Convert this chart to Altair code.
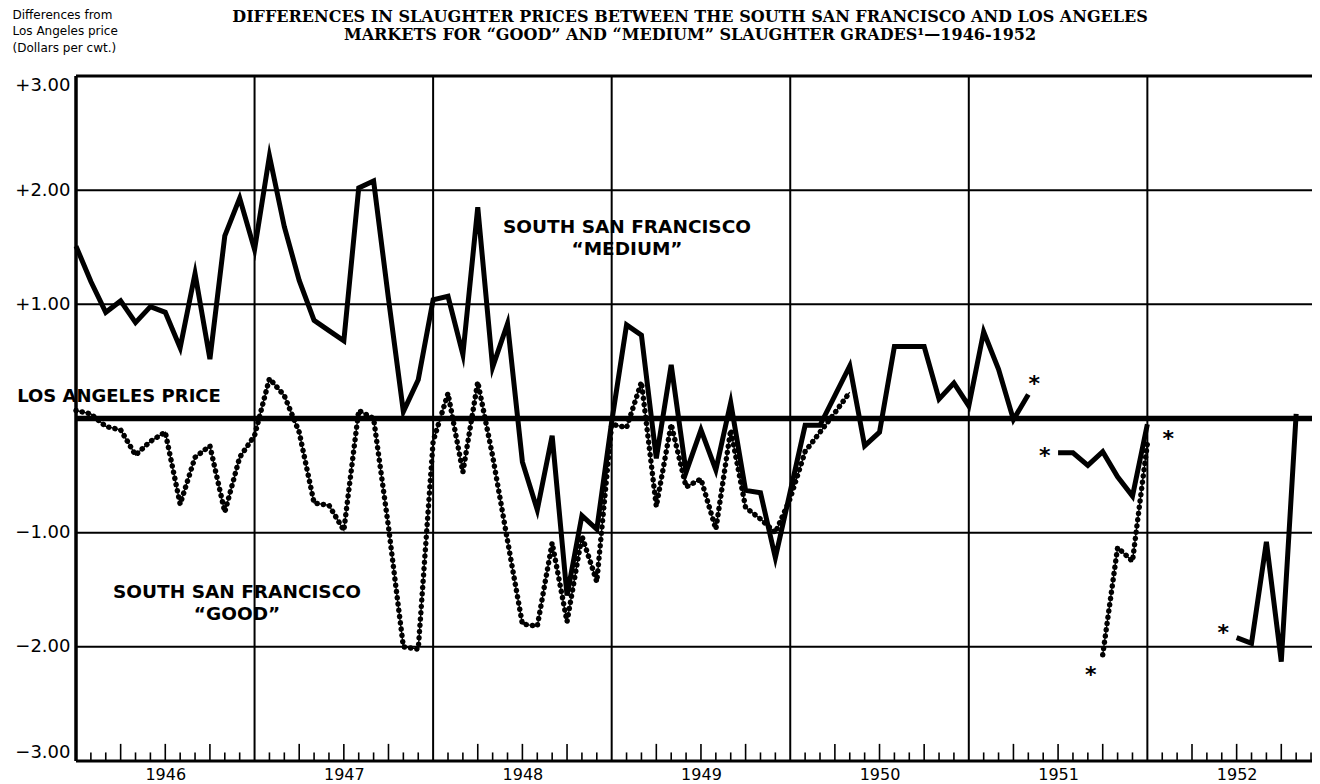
import json
import altair as alt
import numpy as np
import pandas as pd

# ---------------- data (month index 0 = January 1946) ----------------
year_labels = ["1946", "1947", "1948", "1949", "1950", "1951", "1952"]
y_tick_values = [3, 2, 1, -1, -2, -3]
hgrid_values = [2, 1, -1, -2]
vgrid_months = [12, 24, 36, 48, 60, 72]

medium = [
    1.51, 1.20, 0.93, 1.03, 0.84, 0.98, 0.93, 0.62, 1.27, 0.52, 1.60, 1.93,        # 1946
    1.48, 2.30, 1.68, 1.21, 0.86, 0.77, 0.68, 2.02, 2.08, 1.05, 0.06, 0.34,        # 1947
    1.04, 1.07, 0.56, 1.85, 0.45, 0.83, -0.38, -0.80, -0.15, -1.55, -0.85, -0.97,  # 1948
    -0.03, 0.82, 0.73, -0.35, 0.47, -0.47, -0.10, -0.45, 0.14, -0.63, -0.65, -1.22,  # 1949
    -0.64, -0.06, -0.06, 0.20, 0.46, -0.24, -0.12, 0.63, 0.63, 0.63, 0.17, 0.31,   # 1950
    0.11, 0.76, 0.43, -0.01, 0.21, None, -0.30, -0.30, -0.41, -0.29, -0.51, -0.68,  # 1951
    -0.05, None, None, None, None, None, -1.92, -1.97, -1.08, -2.13, 0.04,          # 1952
]

good = [
    0.07, 0.04, -0.07, -0.10, -0.32, -0.20, -0.12, -0.75, -0.34, -0.24, -0.82, -0.34,   # 1946
    -0.15, 0.35, 0.20, -0.12, -0.74, -0.76, -0.98, 0.07, 0.00, -0.95, -2.00, -2.02,     # 1947
    -0.20, 0.22, -0.47, 0.32, -0.33, -1.07, -1.80, -1.82, -1.09, -1.78, -1.03, -1.43,   # 1948
    -0.05, -0.08, 0.32, -0.77, -0.05, -0.60, -0.53, -0.97, -0.10, -0.78, -0.88, -1.00,  # 1949
    -0.70, -0.29, -0.12, 0.05, 0.23, None, None, None, None, None, None, None,          # 1950
    None, None, None, None, None, None, None, None, None, -2.07, -1.13, -1.25,          # 1951
    -0.22, None, None, None, None, None, None, None, None, None, None,                  # 1952
]

star_month = [64.4, 65.1, 68.2, 73.4, 77.1]
star_value = [0.33, -0.30, -2.22, -0.15, -1.85]

title_lines = [
    "DIFFERENCES IN SLAUGHTER PRICES BETWEEN THE SOUTH SAN FRANCISCO AND LOS ANGELES",
    "MARKETS FOR \u201cGOOD\u201d AND \u201cMEDIUM\u201d SLAUGHTER GRADES\u00b9\u20141946-1952",
]
y_title = ["Differences from", "Los Angeles price", "(Dollars per cwt.)"]

# ---------------- helpers ----------------
def series_frame(vals):
    df = pd.DataFrame({"month": np.arange(len(vals)), "value": pd.array(vals, dtype="Float64")})
    df["value"] = df["value"].astype(float)
    df["seg"] = df["value"].isna().cumsum()
    return df.dropna().reset_index(drop=True)

med_df = series_frame(medium)
good_df = series_frame(good)

W, H = 1236, 685
PX_PER_MONTH = 14.88
x_scale = alt.Scale(domain=[0, W / PX_PER_MONTH], nice=False, zero=False)
y_scale = alt.Scale(domain=[-3, 3], nice=False, zero=False)

SANS = "DejaVu Sans"
SERIF = "DejaVu Serif"

x_axis = alt.Axis(
    values=[6 + 12 * k for k in range(len(year_labels))],
    labelExpr=f"{json.dumps(year_labels)}[floor(datum.value / 12)]",
    domain=False, ticks=False, grid=False,
    labelFont=SANS, labelFontSize=16, labelColor="black", labelPadding=5,
    labelFlush=False, labelOverlap=False, title=None,
)
y_axis = alt.Axis(
    values=y_tick_values,
    labelExpr="datum.value > 0 ? '+' + format(datum.value, '.2f') : '\u2212' + format(-datum.value, '.2f')",
    domain=False, ticks=False, grid=False,
    labelFont=SANS, labelFontSize=18, labelColor="black", labelPadding=6,
    labelFlush=True, labelOverlap=False,
    title=y_title, titleAngle=0, titleAlign="left", titleBaseline="top",
    titleX=-64, titleY=-67, titleFont=SANS, titleFontSize=12,
    titleFontWeight="normal", titleColor="black", titleLineHeight=16.5,
)


def X(field):
    return alt.X(f"{field}:Q", scale=x_scale, axis=x_axis)


def Y(field):
    return alt.Y(f"{field}:Q", scale=y_scale, axis=y_axis)


# ---------------- layers ----------------
hgrid = alt.Chart(pd.DataFrame({"value": hgrid_values})).mark_rule(
    color="black", strokeWidth=2
).encode(y=Y("value"))

vgrid = alt.Chart(pd.DataFrame({"month": vgrid_months})).mark_rule(
    color="black", strokeWidth=2
).encode(x=X("month"))

frame_h = alt.Chart(pd.DataFrame({"value": [3, -3]})).mark_rule(
    color="black", strokeWidth=3
).encode(y=Y("value"))

frame_v = alt.Chart(pd.DataFrame({"month": [0]})).mark_rule(
    color="black", strokeWidth=3.5
).encode(x=X("month"))

la_line = alt.Chart(pd.DataFrame({"value": [0]})).mark_rule(
    color="black", strokeWidth=5.5
).encode(y=Y("value"))

tick_months = [m for m in range(1, 84) if m % 12]
ticks_df = pd.DataFrame({"month": tick_months})
ticks_df["value"] = -3.0
ticks_df["top"] = -3.0 + np.where(ticks_df["month"] % 3 == 0, 0.15, 0.075)
ticks = alt.Chart(ticks_df).mark_rule(color="black", strokeWidth=1.6).encode(
    x=X("month"), y=Y("value"), y2="top:Q"
)

medium_line = alt.Chart(med_df).mark_line(
    color="black", strokeWidth=5, strokeJoin="miter", strokeMiterLimit=6
).encode(x=X("month"), y=Y("value"), detail="seg:N", order="month:Q")

good_thin = alt.Chart(good_df).mark_line(color="black", strokeWidth=1.3).encode(
    x=X("month"), y=Y("value"), detail="seg:N", order="month:Q"
)
good_dots = alt.Chart(good_df).mark_line(
    color="black", strokeWidth=5.5, strokeDash=[0.01, 6.3], strokeCap="round"
).encode(x=X("month"), y=Y("value"), detail="seg:N", order="month:Q")

stars = alt.Chart(pd.DataFrame({"month": star_month, "value": star_value})).mark_text(
    text="*", font=SANS, fontSize=22, fontWeight="bold", color="black", dy=3
).encode(x=X("month"), y=Y("value"))


def label(text, px, py, size, font=SANS, weight="bold", baseline="middle", line_height=None):
    kwargs = dict(
        font=font, fontSize=size, fontWeight=weight, color="black",
        align="center", baseline=baseline, lineBreak="\n",
    )
    if line_height is not None:
        kwargs["lineHeight"] = line_height
    return alt.Chart(pd.DataFrame({"t": [text]})).mark_text(**kwargs).encode(
        x=alt.value(px), y=alt.value(py), text="t:N"
    )


labels = [
    label("LOS ANGELES PRICE", 43, 321, 18),
    label("SOUTH SAN FRANCISCO", 551, 151, 18.5),
    label("\u201cMEDIUM\u201d", 551, 173, 18.5),
    label("SOUTH SAN FRANCISCO", 161, 516, 18.5),
    label("\u201cGOOD\u201d", 161, 538, 18.5),
    label("\n".join(title_lines), 614, -67, 16, font=SERIF, baseline="top", line_height=17.5),
]

chart = alt.layer(
    hgrid, vgrid, ticks, frame_h, frame_v, la_line,
    medium_line, good_thin, good_dots, stars, *labels,
).properties(
    width=W, height=H,
    padding={"left": 68, "top": 68, "right": 0, "bottom": 26},
    autosize=alt.AutoSizeParams(type="none"),
).configure_view(stroke=None)

chart.save("out.html", embed_options={"renderer": "svg", "actions": False})
